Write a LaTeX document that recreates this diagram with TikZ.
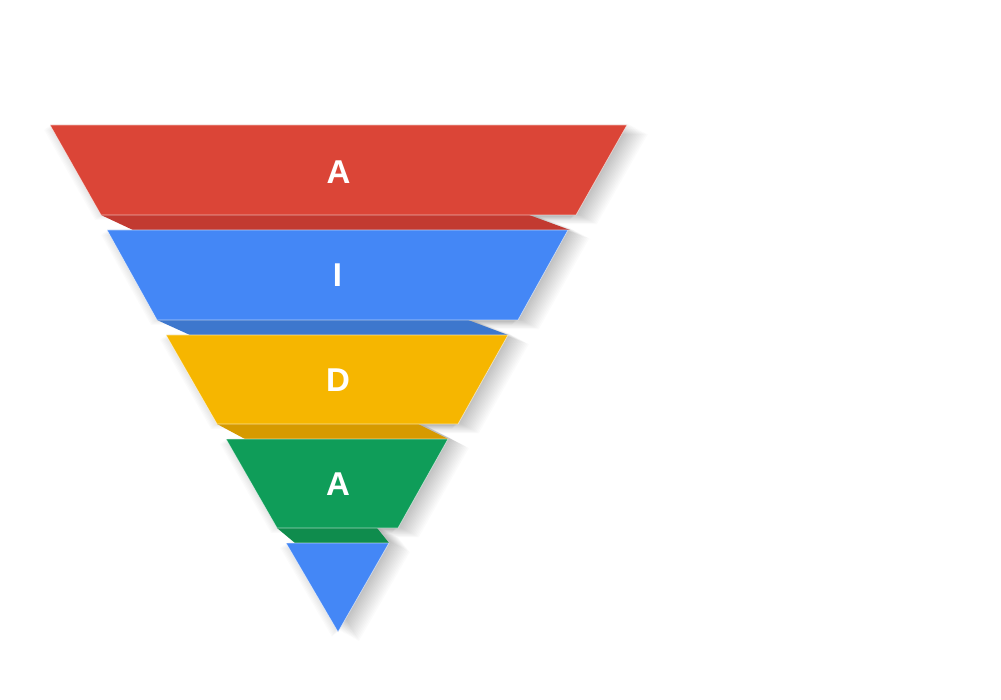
\documentclass[tikz,border=0pt]{standalone}
\usepackage{fontspec}
\setmainfont{Liberation Sans}
\definecolor{gred}{HTML}{DB4537}
\definecolor{gredd}{HTML}{C23A31}
\definecolor{gblue}{HTML}{4487F6}
\definecolor{gblued}{HTML}{3D77CD}
\definecolor{gyel}{HTML}{F6B600}
\definecolor{gyeld}{HTML}{D69A00}
\definecolor{ggreen}{HTML}{0F9D59}
\definecolor{ggreend}{HTML}{0F8C4D}
\tikzset{
  band/.style={line width=0.7pt, draw=white, draw opacity=0.6, line join=miter},
  letter/.style={text=white, font=\bfseries\fontsize{33}{33}\selectfont, inner sep=0pt, anchor=center}
}
\def\pRed{(50,125)--(627,125)--(576,215)--(101,215)--cycle}
\def\fRed{(101,215)--(529,215)--(570,230)--(133,230)--cycle}
\def\pBlue{(107,230)--(568,230)--(518,320)--(157,320)--cycle}
\def\fBlue{(157,320)--(468,320)--(508,335)--(190,335)--cycle}
\def\pYel{(166,335)--(508,335)--(458,424)--(217,424)--cycle}
\def\fYel{(217,424)--(418,424)--(448,439)--(245,439)--cycle}
\def\pGreen{(226,439)--(448,439)--(398,528)--(277,528)--cycle}
\def\fGreen{(277,528)--(377,528)--(389,543)--(295,543)--cycle}
\def\pTip{(286,543)--(389,543)--(338,632)--cycle}
\begin{document}
\begin{tikzpicture}[x=1pt,y=-1pt]
\useasboundingbox (0,0) rectangle (1001,700);
\fill[white] (0,0) rectangle (1001,700);
% soft shadow
\foreach \k in {1,...,16}{
  \begin{scope}[transparency group, opacity=0.016, shift={(1.3*\k,0.7*\k-2)}]
    \fill[black] \pRed; \fill[black] \fRed; \fill[black] \pBlue; \fill[black] \fBlue;
    \fill[black] \pYel; \fill[black] \fYel; \fill[black] \pGreen; \fill[black] \fGreen;
    \fill[black] \pTip;
  \end{scope}
}
\foreach \k in {1,...,6}{
  \begin{scope}[transparency group, opacity=0.014, shift={(-1.0*\k,0.8*\k)}]
    \fill[black] \pRed; \fill[black] \pBlue; \fill[black] \pYel; \fill[black] \pGreen; \fill[black] \pTip;
  \end{scope}
}
% folds
\fill[gredd] \fRed;
\fill[gblued] \fBlue;
\fill[gyeld] \fYel;
\fill[ggreend] \fGreen;
% bands
\filldraw[band, fill=gred] \pRed;
\filldraw[band, fill=gblue] \pBlue;
\filldraw[band, fill=gyel] \pYel;
\filldraw[band, fill=ggreen] \pGreen;
\filldraw[band, fill=gblue] \pTip;
% letters
\node[letter] (l1) at (338.5,172) {A};
\node[letter] (l2) at (337.5,275) {I};
\node[letter] (l3) at (338,380) {D};
\node[letter] (l4) at (338,484) {A};
\end{tikzpicture}
\end{document}
